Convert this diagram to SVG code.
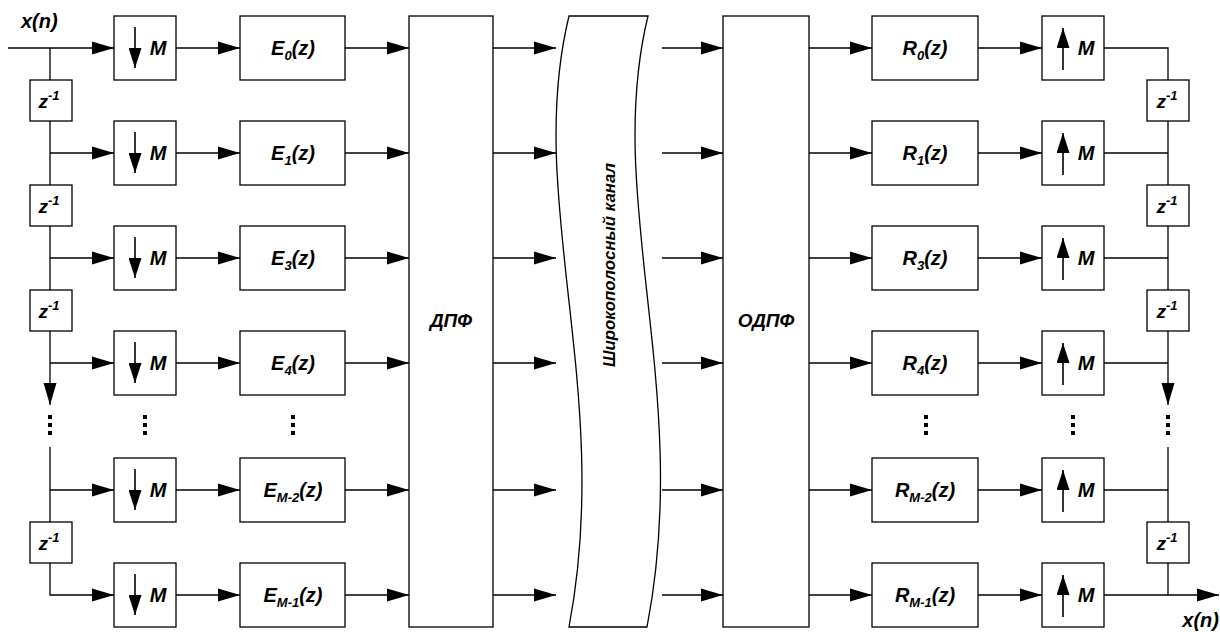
<svg xmlns="http://www.w3.org/2000/svg" width="1220" height="632" viewBox="0 0 1220 632">
<style>
.b{fill:#fff;stroke:#000;stroke-width:1.3}
.c{fill:none;stroke:#000;stroke-width:1.3}
.a{marker-end:url(#ah)}
.s{fill:none;stroke:#000;stroke-width:1.6;marker-end:url(#ah2)}
text{font-family:"Liberation Sans",Arial,sans-serif;font-weight:bold;font-style:italic;fill:#000}
.t{font-size:20px;text-anchor:middle}
.z{font-size:19px;text-anchor:middle}
.sub{font-size:13px}
.sup{font-size:13px}
.d{fill:#000}
</style>
<defs>
<marker id="ah" markerUnits="userSpaceOnUse" markerWidth="22" markerHeight="14" refX="22" refY="7" orient="auto"><path d="M0,0.5 L22,7 L0,13.5 Z" fill="#000"/></marker>
<marker id="ah2" markerUnits="userSpaceOnUse" markerWidth="20" markerHeight="13" refX="20" refY="6.5" orient="auto"><path d="M0,0 L20,6.5 L0,13 Z" fill="#000"/></marker>
</defs>
<rect width="1220" height="632" fill="#fff"/>

<g id="connectors">
<path class="c a" d="M8,48 H114"/>
<path class="c a" d="M50,153 H114"/>
<path class="c a" d="M50,258 H114"/>
<path class="c a" d="M50,363 H114"/>
<path class="c a" d="M50,490 H114"/>
<path class="c a" d="M50,563 V595 H114"/>
<path class="c" d="M50,48 V80 M50,121 V185 M50,226 V290 M50,447 V522"/>
<path class="c a" d="M50,331 V405"/>
<path class="c a" d="M176,48 H240"/><path class="c a" d="M176,153 H240"/><path class="c a" d="M176,258 H240"/><path class="c a" d="M176,363 H240"/><path class="c a" d="M176,490 H240"/><path class="c a" d="M176,595 H240"/>
<path class="c a" d="M345,48 H409"/><path class="c a" d="M345,153 H409"/><path class="c a" d="M345,258 H409"/><path class="c a" d="M345,363 H409"/><path class="c a" d="M345,490 H409"/><path class="c a" d="M345,595 H409"/>
<path class="c a" d="M493,48 H556"/><path class="c a" d="M493,153 H556"/><path class="c a" d="M493,258 H556"/><path class="c a" d="M493,363 H556"/><path class="c a" d="M493,490 H556"/><path class="c a" d="M493,595 H556"/>
<path class="c a" d="M662,48 H723"/><path class="c a" d="M662,153 H723"/><path class="c a" d="M662,258 H723"/><path class="c a" d="M662,363 H723"/><path class="c a" d="M662,490 H723"/><path class="c a" d="M662,595 H723"/>
<path class="c a" d="M809,48 H872"/><path class="c a" d="M809,153 H872"/><path class="c a" d="M809,258 H872"/><path class="c a" d="M809,363 H872"/><path class="c a" d="M809,490 H872"/><path class="c a" d="M809,595 H872"/>
<path class="c a" d="M978,48 H1042"/><path class="c a" d="M978,153 H1042"/><path class="c a" d="M978,258 H1042"/><path class="c a" d="M978,363 H1042"/><path class="c a" d="M978,490 H1042"/><path class="c a" d="M978,595 H1042"/>
<path class="c" d="M1104,48 H1168 V80 M1104,153 H1168 M1104,258 H1168 M1104,363 H1168 M1104,490 H1168 M1168,121 V185 M1168,226 V290 M1168,447 V522 M1168,563 V595"/>
<path class="c a" d="M1168,331 V405"/>
<path class="c a" d="M1104,595 H1219"/>
</g>

<g id="dots">
<rect class="d" x="48" y="415" width="4" height="4"/><rect class="d" x="48" y="423" width="4" height="4"/><rect class="d" x="48" y="431" width="4" height="4"/>
<rect class="d" x="143" y="415" width="4" height="4"/><rect class="d" x="143" y="423" width="4" height="4"/><rect class="d" x="143" y="431" width="4" height="4"/>
<rect class="d" x="291" y="415" width="4" height="4"/><rect class="d" x="291" y="423" width="4" height="4"/><rect class="d" x="291" y="431" width="4" height="4"/>
<rect class="d" x="924" y="415" width="4" height="4"/><rect class="d" x="924" y="423" width="4" height="4"/><rect class="d" x="924" y="431" width="4" height="4"/>
<rect class="d" x="1071" y="415" width="4" height="4"/><rect class="d" x="1071" y="423" width="4" height="4"/><rect class="d" x="1071" y="431" width="4" height="4"/>
<rect class="d" x="1166" y="415" width="4" height="4"/><rect class="d" x="1166" y="423" width="4" height="4"/><rect class="d" x="1166" y="431" width="4" height="4"/>
</g>

<text id="x-in" x="21" y="28" style="font-size:20px">x(n)</text>
<text id="x-out" x="1219" y="627" style="font-size:20px;text-anchor:end">x(n)</text>

<g id="zl-0"><rect class="b" x="30" y="80" width="42" height="41"/><text class="z" x="49" y="108">z<tspan class="sup" dy="-8">-1</tspan></text></g>
<g id="zl-1"><rect class="b" x="30" y="185" width="42" height="41"/><text class="z" x="49" y="213">z<tspan class="sup" dy="-8">-1</tspan></text></g>
<g id="zl-2"><rect class="b" x="30" y="290" width="42" height="41"/><text class="z" x="49" y="318">z<tspan class="sup" dy="-8">-1</tspan></text></g>
<g id="zl-3"><rect class="b" x="30" y="522" width="42" height="41"/><text class="z" x="49" y="550">z<tspan class="sup" dy="-8">-1</tspan></text></g>

<g id="zr-0"><rect class="b" x="1147" y="80" width="42" height="41"/><text class="z" x="1167" y="108">z<tspan class="sup" dy="-8">-1</tspan></text></g>
<g id="zr-1"><rect class="b" x="1147" y="185" width="42" height="41"/><text class="z" x="1167" y="213">z<tspan class="sup" dy="-8">-1</tspan></text></g>
<g id="zr-2"><rect class="b" x="1147" y="290" width="42" height="41"/><text class="z" x="1167" y="318">z<tspan class="sup" dy="-8">-1</tspan></text></g>
<g id="zr-3"><rect class="b" x="1147" y="522" width="42" height="41"/><text class="z" x="1167" y="550">z<tspan class="sup" dy="-8">-1</tspan></text></g>

<g id="down-0"><rect class="b" x="114" y="16" width="62" height="64"/><path class="s" d="M135,27 V68"/><text class="t" x="158" y="55">M</text></g>
<g id="down-1"><rect class="b" x="114" y="121" width="62" height="64"/><path class="s" d="M135,132 V173"/><text class="t" x="158" y="160">M</text></g>
<g id="down-2"><rect class="b" x="114" y="226" width="62" height="64"/><path class="s" d="M135,237 V278"/><text class="t" x="158" y="265">M</text></g>
<g id="down-3"><rect class="b" x="114" y="331" width="62" height="64"/><path class="s" d="M135,342 V383"/><text class="t" x="158" y="370">M</text></g>
<g id="down-4"><rect class="b" x="114" y="458" width="62" height="64"/><path class="s" d="M135,469 V510"/><text class="t" x="158" y="497">M</text></g>
<g id="down-5"><rect class="b" x="114" y="563" width="62" height="64"/><path class="s" d="M135,574 V615"/><text class="t" x="158" y="602">M</text></g>

<g id="E-0"><rect class="b" x="240" y="16" width="105" height="64"/><text class="t" x="293" y="55">E<tspan class="sub" dy="5">0</tspan><tspan dy="-5">(z)</tspan></text></g>
<g id="E-1"><rect class="b" x="240" y="121" width="105" height="64"/><text class="t" x="293" y="160">E<tspan class="sub" dy="5">1</tspan><tspan dy="-5">(z)</tspan></text></g>
<g id="E-3"><rect class="b" x="240" y="226" width="105" height="64"/><text class="t" x="293" y="265">E<tspan class="sub" dy="5">3</tspan><tspan dy="-5">(z)</tspan></text></g>
<g id="E-4"><rect class="b" x="240" y="331" width="105" height="64"/><text class="t" x="293" y="370">E<tspan class="sub" dy="5">4</tspan><tspan dy="-5">(z)</tspan></text></g>
<g id="E-M2"><rect class="b" x="240" y="458" width="105" height="64"/><text class="t" x="293" y="497">E<tspan class="sub" dy="5">M-2</tspan><tspan dy="-5">(z)</tspan></text></g>
<g id="E-M1"><rect class="b" x="240" y="563" width="105" height="64"/><text class="t" x="293" y="602">E<tspan class="sub" dy="5">M-1</tspan><tspan dy="-5">(z)</tspan></text></g>

<g id="dft"><rect class="b" x="409" y="16" width="84" height="611"/><text class="t" x="451" y="327" style="font-size:19px">ДПФ</text></g>

<g id="channel"><path class="b" d="M569,16 H648 C603,200 693,390 647,627 H569 C614,390 524,200 569,16 Z"/><text style="font-size:16px;text-anchor:middle" transform="translate(615,265) rotate(-90)" textLength="204" lengthAdjust="spacingAndGlyphs">Широкополосный канал</text></g>

<g id="idft"><rect class="b" x="723" y="16" width="86" height="611"/><text class="t" x="766" y="327" style="font-size:19px">ОДПФ</text></g>

<g id="R-0"><rect class="b" x="872" y="16" width="106" height="64"/><text class="t" x="925" y="55">R<tspan class="sub" dy="5">0</tspan><tspan dy="-5">(z)</tspan></text></g>
<g id="R-1"><rect class="b" x="872" y="121" width="106" height="64"/><text class="t" x="925" y="160">R<tspan class="sub" dy="5">1</tspan><tspan dy="-5">(z)</tspan></text></g>
<g id="R-3"><rect class="b" x="872" y="226" width="106" height="64"/><text class="t" x="925" y="265">R<tspan class="sub" dy="5">3</tspan><tspan dy="-5">(z)</tspan></text></g>
<g id="R-4"><rect class="b" x="872" y="331" width="106" height="64"/><text class="t" x="925" y="370">R<tspan class="sub" dy="5">4</tspan><tspan dy="-5">(z)</tspan></text></g>
<g id="R-M2"><rect class="b" x="872" y="458" width="106" height="64"/><text class="t" x="925" y="497">R<tspan class="sub" dy="5">M-2</tspan><tspan dy="-5">(z)</tspan></text></g>
<g id="R-M1"><rect class="b" x="872" y="563" width="106" height="64"/><text class="t" x="925" y="602">R<tspan class="sub" dy="5">M-1</tspan><tspan dy="-5">(z)</tspan></text></g>

<g id="up-0"><rect class="b" x="1042" y="16" width="62" height="64"/><path class="s" d="M1063,70 V28"/><text class="t" x="1086" y="55">M</text></g>
<g id="up-1"><rect class="b" x="1042" y="121" width="62" height="64"/><path class="s" d="M1063,175 V133"/><text class="t" x="1086" y="160">M</text></g>
<g id="up-2"><rect class="b" x="1042" y="226" width="62" height="64"/><path class="s" d="M1063,280 V238"/><text class="t" x="1086" y="265">M</text></g>
<g id="up-3"><rect class="b" x="1042" y="331" width="62" height="64"/><path class="s" d="M1063,385 V343"/><text class="t" x="1086" y="370">M</text></g>
<g id="up-4"><rect class="b" x="1042" y="458" width="62" height="64"/><path class="s" d="M1063,512 V470"/><text class="t" x="1086" y="497">M</text></g>
<g id="up-5"><rect class="b" x="1042" y="563" width="62" height="64"/><path class="s" d="M1063,617 V575"/><text class="t" x="1086" y="602">M</text></g>
</svg>
